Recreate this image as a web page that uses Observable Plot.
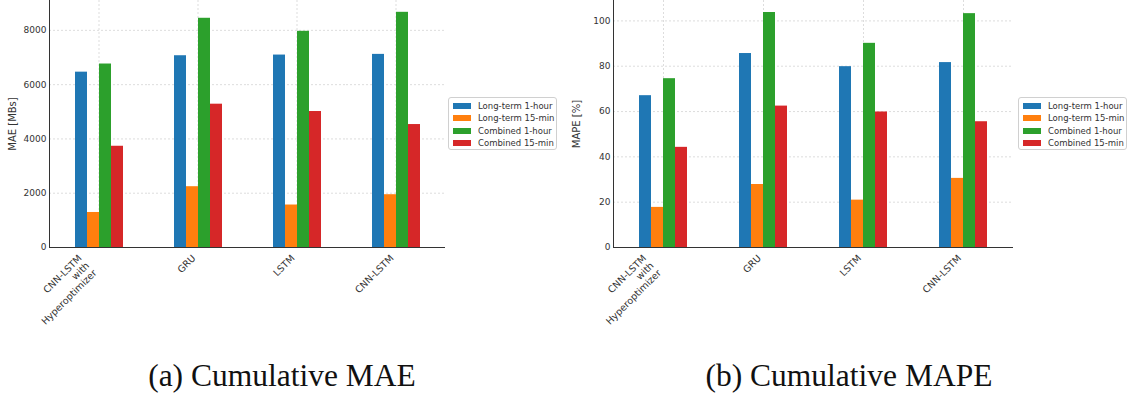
<!DOCTYPE html>
<html>
<head>
<meta charset="utf-8">
<script src="https://cdn.jsdelivr.net/npm/d3@7"></script>
<script src="https://cdn.jsdelivr.net/npm/@observablehq/plot@0.6"></script>
<style>
  html, body { margin: 0; padding: 0; background: #fff; }
  #root { position: relative; width: 1131px; height: 398px; overflow: hidden; font-family: "DejaVu Sans", sans-serif; }
  .panel { position: absolute; top: 0; }
  .legend { position: absolute; box-sizing: border-box; border: 1px solid #d0d0d0; border-radius: 3px; background: #fff; }
  .legend .row { position: absolute; left: 0; height: 12px; display: flex; align-items: center; font-size: 8.5px; color: #333; white-space: nowrap; }
  .legend .sw { width: 18px; height: 6px; margin-left: 4px; margin-right: 7px; }
  .caption { position: absolute; width: 400px; text-align: center; font-family: "Liberation Serif", serif; font-size: 31.5px; line-height: 1; color: #111; }
</style>
</head>
<body>
<div id="root"></div>
<script>
// ---- data ----
const models = ["CNN-LSTM with Hyperoptimizer", "GRU", "LSTM", "CNN-LSTM"];
const tickLabels = ["CNN-LSTM\nwith\nHyperoptimizer", "GRU", "LSTM", "CNN-LSTM"];
const seriesNames = ["Long-term 1-hour", "Long-term 15-min", "Combined 1-hour", "Combined 15-min"];
const colors = ["#1f77b4", "#ff7f0e", "#2ca02c", "#d62728"];

const maeLong1h  = [6460, 7065, 7090, 7115];
const maeLong15  = [1290, 2240, 1565, 1945];
const maeComb1h  = [6760, 8445, 7965, 8665];
const maeComb15  = [3730, 5280, 5010, 4530];

const mapeLong1h = [67.0, 85.6, 79.8, 81.6];
const mapeLong15 = [17.7, 27.8, 20.9, 30.5];
const mapeComb1h = [74.5, 103.7, 90.1, 103.2];
const mapeComb15 = [44.2, 62.4, 59.8, 55.5];

const maeTicks = [0, 2000, 4000, 6000, 8000];
const mapeTicks = [0, 20, 40, 60, 80, 100];

const captions = ["(a) Cumulative MAE", "(b) Cumulative MAPE"];
const yLabels = ["MAE [MBs]", "MAPE [%]"];

// ---- build ----
function toRows(seriesArrays) {
  const rows = [];
  models.forEach((m, i) => {
    seriesNames.forEach((s, j) => rows.push({model: m, series: s, value: seriesArrays[j][i]}));
  });
  return rows;
}

const tickFs = 9.5;
const tickLine = 1.1;
function labelDx(label) {
  const n = label.split("\n").length;
  return -Math.SQRT1_2 * tickFs * (1.05 + (n - 1) * tickLine);
}

function chart({rows, ticks, yMax, label, width, marginLeft, marginRight}) {
  const single = models.filter((m, i) => tickLabels[i].split("\n").length === 1);
  const multi = models.filter((m, i) => tickLabels[i].split("\n").length > 1);
  const lab = m => tickLabels[models.indexOf(m)];
  const grid = {stroke: "#d4d4d4", strokeOpacity: 1, strokeDasharray: "2,2", strokeWidth: 0.8};
  const textOpts = (arr) => ({
    fx: d => d, frameAnchor: "bottom", text: lab, rotate: -45,
    textAnchor: "end", lineAnchor: "top", lineHeight: tickLine, fontSize: tickFs, fill: "#333",
    dy: 6, dx: arr.length ? labelDx(lab(arr[0])) : 0
  });
  return Plot.plot({
    width, height: 330,
    marginLeft, marginRight, marginTop: 0, marginBottom: 83,
    style: {fontFamily: "DejaVu Sans", fontSize: "9px", color: "#333", overflow: "visible"},
    fx: {domain: models, padding: 0, label: null, axis: null},
    x: {domain: seriesNames, paddingInner: 0, paddingOuter: 2, axis: null},
    y: {domain: [0, yMax]},
    color: {domain: seriesNames, range: colors},
    marks: [
      Plot.gridY(ticks, grid),
      Plot.gridFx(grid),
      Plot.barY(rows, {fx: "model", x: "series", y: "value", fill: "series"}),
      Plot.ruleY([0], {stroke: "#333", strokeWidth: 1}),
      Plot.frame({anchor: "left", facetAnchor: "left", stroke: "#333"}),
      Plot.axisY(ticks, {tickSize: 0, tickPadding: 3, fontSize: 9, tickFormat: d3.format("d"), label: null}),
      Plot.axisY([], {label, fontSize: 10, labelAnchor: "center", labelArrow: "none", labelOffset: 41}),
      Plot.text(single, textOpts(single)),
      Plot.text(multi, textOpts(multi))
    ]
  });
}

const root = document.getElementById("root");
const panels = [
  {left: 0, width: 560, marginLeft: 48, marginRight: 115, rows: toRows([maeLong1h, maeLong15, maeComb1h, maeComb15]), ticks: maeTicks, yMax: 9100, label: yLabels[0], legendLeft: 448, capCenter: 282},
  {left: 560, width: 571, marginLeft: 52, marginRight: 117, rows: toRows([mapeLong1h, mapeLong15, mapeComb1h, mapeComb15]), ticks: mapeTicks, yMax: 109, label: yLabels[1], legendLeft: 1018, capCenter: 849}
];

panels.forEach((p, k) => {
  const wrap = document.createElement("div");
  wrap.className = "panel";
  wrap.style.left = p.left + "px";
  wrap.appendChild(chart(p));
  root.appendChild(wrap);

  const lg = document.createElement("div");
  lg.className = "legend";
  lg.style.left = p.legendLeft + "px";
  lg.style.top = "97px";
  lg.style.width = "109px";
  lg.style.height = "53px";
  seriesNames.forEach((s, j) => {
    const row = document.createElement("div");
    row.className = "row";
    row.style.top = (2 + j * 12.3) + "px";
    const sw = document.createElement("div");
    sw.className = "sw";
    sw.style.background = colors[j];
    row.appendChild(sw);
    const t = document.createElement("span");
    t.textContent = s;
    row.appendChild(t);
    lg.appendChild(row);
  });
  root.appendChild(lg);

  const cap = document.createElement("div");
  cap.className = "caption";
  cap.style.left = (p.capCenter - 200) + "px";
  cap.style.top = "360px";
  cap.textContent = captions[k];
  root.appendChild(cap);
});
</script>
</body>
</html>
